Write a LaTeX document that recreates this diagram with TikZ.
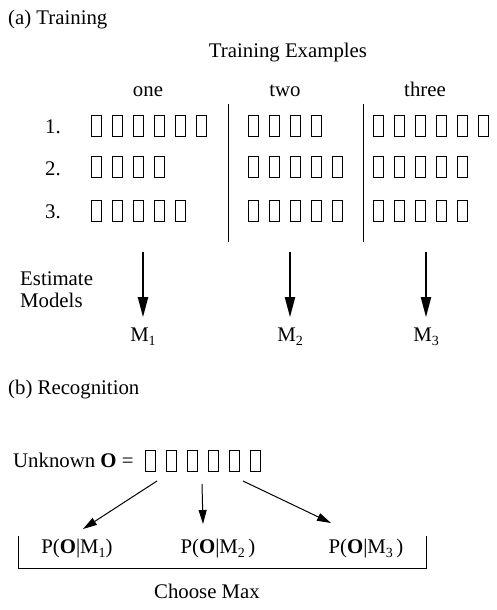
\documentclass[tikz,border=0pt]{standalone}
\usepackage{fontspec}
\setmainfont{Liberation Serif}
\usetikzlibrary{arrows.meta,calc}
\newcommand\mysub[1]{\raisebox{-4.5pt}{\fontsize{14}{14}\selectfont #1}}
\begin{document}
\begin{tikzpicture}[x=1pt,y=-1pt,
  lbl/.style={inner sep=0pt,anchor=base,font=\fontsize{20.8}{25}\selectfont},
  lblw/.style={lbl,anchor=base west},
  sym/.style={draw,line width=0.9pt,minimum width=10pt,minimum height=21pt,inner sep=0pt},
  sepline/.style={line width=1pt},
  bigarrow/.style={line width=2pt,-{Triangle[length=20pt,width=10pt]}},
  smallarrow/.style={line width=1pt,-{Triangle[length=14pt,width=8pt]}},
  bracket/.style={line width=1pt},
]
\useasboundingbox (0,0) rectangle (497,610);

% ---------- (a) Training ----------
\node[lblw] (ta) at (8,25) {(a) Training};
\node[lbl] (te) at (288,57) {Training Examples};
\node[lbl] (c1) at (148,96) {one};
\node[lbl] (c2) at (285,96) {two};
\node[lbl] (c3) at (425,96) {three};

\node[lblw] (n1) at (45,133) {1.};
\node[lblw] (n2) at (45,175) {2.};
\node[lblw] (n3) at (45,218) {3.};

% symbol sequences: name / x0 / yc / count
\foreach \nm/\xs/\yc/\cnt in {a1/91/125.5/6, a2/91/167/4, a3/91/211/5,
                              b1/248/125.5/4, b2/248/167/5, b3/248/211/5,
                              c1/373/125.5/6, c2/373/167/5, c3/373/211/5}{
  \foreach \i in {1,...,\cnt}{
    \node[sym] (\nm-\i) at ({\xs+5.5+(\i-1)*21},\yc) {};
  }
}

\coordinate (v1a) at (228,104);
\coordinate (v1b) at (228,242);
\coordinate (v2a) at (363,104);
\coordinate (v2b) at (363,242);
\draw[sepline] (v1a) -- (v1b);
\draw[sepline] (v2a) -- (v2b);

\node[lblw] (est) at (20,285) {Estimate};
\node[lblw] (mod) at (20,307) {Models};

\node[lbl] (m1) at (143,341) {M\mysub{1}};
\node[lbl] (m2) at (290,341) {M\mysub{2}};
\node[lbl] (m3) at (426,341) {M\mysub{3}};

\coordinate (s1) at (143,252);
\coordinate (s2) at (290,252);
\coordinate (s3) at (426,252);
\draw[bigarrow,shorten >=10pt] (s1) -- (s1 |- m1.north);
\draw[bigarrow,shorten >=10pt] (s2) -- (s2 |- m2.north);
\draw[bigarrow,shorten >=10pt] (s3) -- (s3 |- m3.north);

% ---------- (b) Recognition ----------
\node[lblw] (tb) at (8,394) {(b) Recognition};
\node[lblw] (unk) at (13,467) {Unknown \textbf{O} =};
\foreach \i in {1,...,6}{
  \node[sym] (u-\i) at ({145+5.5+(\i-1)*21},461) {};
}

\node[lbl] (p1) at (77,553) {P(\textbf{O}|M\mysub{1})};
\node[lbl] (p2) at (218,553) {P(\textbf{O}|M\mysub{2}\,)};
\node[lbl] (p3) at (366,553) {P(\textbf{O}|M\mysub{3}\,)};

\coordinate (f1) at (157,481);
\coordinate (f2) at (202,484);
\coordinate (f3) at (243,481);
\coordinate (t1) at (83,529);
\coordinate (t2) at (203,524);
\coordinate (t3) at (331,523);
\draw[smallarrow] (f1) -- (t1);
\draw[smallarrow] (f2) -- (t2);
\draw[smallarrow] (f3) -- (t3);

\coordinate (k1) at (18,536);
\coordinate (k2) at (18,568);
\coordinate (k3) at (426,568);
\coordinate (k4) at (426,536);
\draw[bracket] (k1) -- (k2) -- (k3) -- (k4);

\node[lbl] (cm) at (207,598) {Choose Max};
\end{tikzpicture}
\end{document}
